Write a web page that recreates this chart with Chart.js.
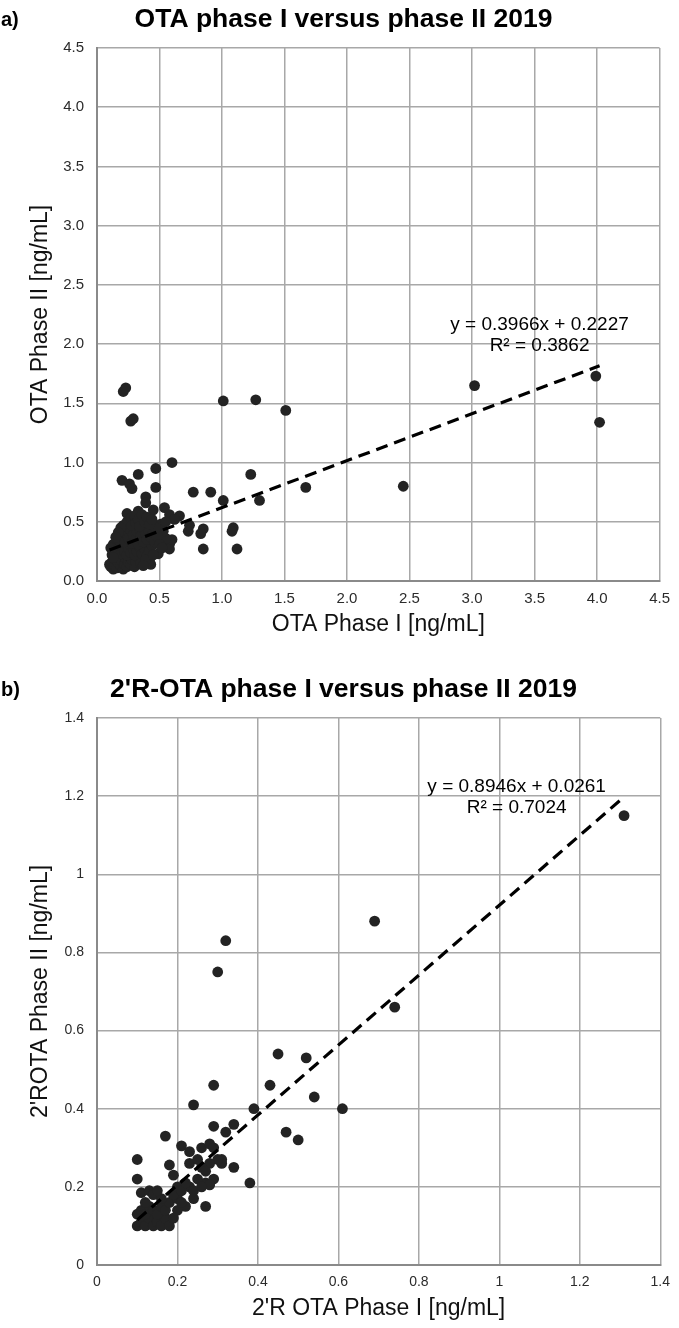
<!DOCTYPE html>
<html>
<head>
<meta charset="utf-8">
<script src="https://cdn.jsdelivr.net/npm/chart.js@4.4.0/dist/chart.umd.min.js"></script>
<style>
  html, body { margin: 0; padding: 0; background: #fff; }
  #wrap { position: relative; width: 679px; height: 1328px; }
  canvas { position: absolute; left: 0; }
</style>
</head>
<body>
<div id="wrap">
  <canvas id="chartA" width="679" height="644" style="top:0"></canvas>
  <canvas id="chartB" width="679" height="658" style="top:670px"></canvas>
</div>
<script>
// a) OTA, phase I vs phase II (ng/mL)
const otaPhaseI = [
  0.21, 0.23, 0.27, 0.29, 1.01, 1.27, 1.51, 3.02, 3.99, 4.02,
  0.60, 0.47, 0.33, 0.20, 0.26, 0.28, 0.47, 0.77, 0.91, 1.01,
  1.23, 1.30, 1.67, 2.45, 0.74, 0.73, 0.85, 0.83, 1.09, 1.08,
  0.85, 1.12, 0.39, 0.39, 0.54, 0.45, 0.33, 0.24, 0.58, 0.66,
  0.62, 0.58, 0.58, 0.49, 0.43, 0.42, 0.60, 0.55, 0.53, 0.51,
  0.10, 0.11, 0.12, 0.13, 0.14, 0.15, 0.16, 0.17, 0.18, 0.19,
  0.20, 0.21, 0.22, 0.23, 0.24, 0.25, 0.26, 0.27, 0.28, 0.30,
  0.31, 0.33, 0.35, 0.12, 0.14, 0.16, 0.13, 0.11, 0.15, 0.17,
  0.19, 0.20, 0.22, 0.24, 0.25, 0.27, 0.29, 0.30, 0.32, 0.34,
  0.36, 0.38, 0.40, 0.42, 0.44, 0.18, 0.20, 0.22, 0.23, 0.25,
  0.26, 0.28, 0.29, 0.31, 0.32, 0.33, 0.35, 0.36, 0.37, 0.39,
  0.40, 0.41, 0.43, 0.45, 0.46, 0.48, 0.50, 0.47, 0.21, 0.24,
  0.27, 0.28, 0.30, 0.31, 0.33, 0.34, 0.36, 0.38, 0.40, 0.42,
  0.44, 0.19, 0.17, 0.15, 0.39, 0.37, 0.45, 0.52, 0.55, 0.13
];
const otaPhaseII = [
  1.60, 1.63, 1.35, 1.37, 1.52, 1.53, 1.44, 1.65, 1.73, 1.34,
  1.00, 0.95, 0.90, 0.85, 0.82, 0.78, 0.79, 0.75, 0.75, 0.68,
  0.90, 0.68, 0.79, 0.80, 0.47, 0.42, 0.44, 0.40, 0.45, 0.42,
  0.27, 0.27, 0.71, 0.66, 0.62, 0.60, 0.59, 0.57, 0.56, 0.55,
  0.52, 0.31, 0.27, 0.23, 0.14, 0.17, 0.35, 0.36, 0.42, 0.48,
  0.14, 0.12, 0.16, 0.10, 0.13, 0.18, 0.11, 0.15, 0.20, 0.13,
  0.17, 0.10, 0.14, 0.19, 0.12, 0.16, 0.21, 0.14, 0.18, 0.12,
  0.16, 0.20, 0.15, 0.22, 0.26, 0.30, 0.31, 0.28, 0.24, 0.27,
  0.23, 0.29, 0.25, 0.22, 0.28, 0.24, 0.27, 0.22, 0.25, 0.29,
  0.23, 0.27, 0.21, 0.26, 0.30, 0.34, 0.38, 0.33, 0.41, 0.36,
  0.44, 0.32, 0.39, 0.35, 0.42, 0.31, 0.38, 0.45, 0.33, 0.40,
  0.35, 0.43, 0.37, 0.41, 0.33, 0.38, 0.31, 0.45, 0.47, 0.50,
  0.53, 0.47, 0.55, 0.49, 0.52, 0.46, 0.56, 0.50, 0.54, 0.48,
  0.52, 0.45, 0.41, 0.37, 0.18, 0.13, 0.22, 0.28, 0.50, 0.20
];

// b) 2'R-OTA, phase I vs phase II (ng/mL)
const rotaPhaseI = [
  1.31, 0.69, 0.32, 0.30, 0.74, 0.45, 0.52, 0.29, 0.43, 0.54,
  0.24, 0.39, 0.61, 0.29, 0.34, 0.32, 0.47, 0.50, 0.17, 0.10,
  0.10, 0.21, 0.23, 0.26, 0.28, 0.34, 0.38, 0.18, 0.19, 0.31,
  0.31, 0.30, 0.28, 0.23, 0.29, 0.23, 0.24, 0.27, 0.11, 0.13,
  0.22, 0.20, 0.27, 0.28, 0.26, 0.27, 0.10, 0.11, 0.12, 0.13,
  0.14, 0.15, 0.16, 0.17, 0.18, 0.10, 0.11, 0.12, 0.13, 0.14,
  0.15, 0.16, 0.17, 0.18, 0.19, 0.20, 0.21, 0.12, 0.14, 0.16,
  0.19, 0.20, 0.21, 0.22, 0.24, 0.25, 0.26, 0.15, 0.25, 0.29
];
const rotaPhaseII = [
  1.15, 0.88, 0.83, 0.75, 0.66, 0.54, 0.53, 0.46, 0.46, 0.43,
  0.41, 0.40, 0.40, 0.355, 0.36, 0.34, 0.34, 0.32, 0.33, 0.27,
  0.22, 0.305, 0.29, 0.30, 0.31, 0.25, 0.21, 0.256, 0.23, 0.27,
  0.26, 0.27, 0.26, 0.26, 0.22, 0.20, 0.17, 0.15, 0.185, 0.19,
  0.15, 0.14, 0.21, 0.205, 0.25, 0.24, 0.10, 0.11, 0.10, 0.12,
  0.10, 0.11, 0.10, 0.12, 0.10, 0.13, 0.14, 0.13, 0.15, 0.14,
  0.13, 0.15, 0.14, 0.16, 0.12, 0.17, 0.16, 0.16, 0.18, 0.17,
  0.18, 0.20, 0.19, 0.21, 0.19, 0.22, 0.20, 0.19, 0.27, 0.30
];

// linear trend lines as printed on the figure: [slope, intercept, R²]
const otaTrend = [0.3966, 0.2227, 0.3862];
const rotaTrend = [0.8946, 0.0261, 0.7024];

const otaAxis = [0, 4.5, 0.5];   // min, max, step (both axes)
const rotaAxis = [0, 1.4, 0.2];

const FONT = '"Liberation Sans", Arial, sans-serif';

// panel letter + trendline equation text
const annotate = {
  id: 'annotate',
  afterDraw(chart, args, opts) {
    const { ctx, scales } = chart;
    ctx.save();
    ctx.fillStyle = '#000';
    ctx.textBaseline = 'middle';
    ctx.font = `bold 20px ${FONT}`;
    ctx.textAlign = 'left';
    ctx.fillText(opts.panel, 1, 20);

    ctx.font = `19px ${FONT}`;
    ctx.textAlign = 'center';
    const [m, b, r2] = opts.trend;
    const cx = scales.x.getPixelForValue(opts.at[0]);
    ctx.fillText(`y = ${m.toFixed(4)}x + ${b.toFixed(4)}`, cx, scales.y.getPixelForValue(opts.at[1]));
    ctx.fillText(`R² = ${r2.toFixed(4)}`, cx, scales.y.getPixelForValue(opts.at[2]));
    ctx.restore();
  }
};

function makeChart(id, cfg) {
  const xs = cfg.xs, ys = cfg.ys;
  const points = xs.map((x, i) => ({ x, y: ys[i] }));
  const x0 = Math.min(...xs), x1 = Math.max(...xs);
  const [m, b] = cfg.trend;
  const trendPts = [{ x: x0, y: m * x0 + b }, { x: x1, y: m * x1 + b }];
  const [min, max, step] = cfg.axis;

  const scale = (title, horizontal) => ({
    type: 'linear',
    min, max,
    ticks: {
      stepSize: step,
      padding: horizontal ? 9 : 13,
      color: '#2b2b2b',
      font: { family: FONT, size: cfg.tickSize },
      callback: cfg.fmt
    },
    grid: { color: '#a8a8a8', lineWidth: 1.5, drawTicks: false },
    border: { color: '#8a8a8a', width: 2 },
    title: {
      display: true,
      text: title,
      color: '#111',
      font: { family: FONT, size: 23 },
      padding: horizontal ? { top: 0, bottom: 3 } : { top: 3, bottom: 0 }
    },
    afterFit(s) {
      if (horizontal) s.height = 60; else s.width = 73;
    }
  });

  return new Chart(document.getElementById(id), {
    type: 'scatter',
    data: {
      datasets: [
        {
          type: 'line',
          data: trendPts,
          borderColor: '#000',
          borderWidth: 3.2,
          borderDash: [12, 7],
          pointRadius: 0,
          fill: false,
          order: 0
        },
        {
          data: points,
          backgroundColor: '#232323',
          borderWidth: 0,
          pointRadius: 5.4,
          order: 1
        }
      ]
    },
    options: {
      responsive: false,
      animation: false,
      devicePixelRatio: 1,
      layout: { padding: { left: 24, right: 16, top: 0, bottom: 3 } },
      scales: {
        x: scale(cfg.xTitle, true),
        y: scale(cfg.yTitle, false)
      },
      plugins: {
        legend: { display: false },
        tooltip: { enabled: false },
        title: {
          display: true,
          text: cfg.title,
          color: '#000',
          font: { family: FONT, size: 26.5, weight: 'bold' },
          padding: { top: 4, bottom: 12.2 }
        },
        annotate: { panel: cfg.panel, trend: cfg.trend, at: cfg.eqAt }
      }
    },
    plugins: [annotate]
  });
}

makeChart('chartA', {
  panel: 'a)',
  title: 'OTA phase I versus phase II 2019',
  xTitle: 'OTA Phase I [ng/mL]',
  yTitle: 'OTA Phase II [ng/mL]',
  xs: otaPhaseI,
  ys: otaPhaseII,
  trend: otaTrend,
  axis: otaAxis,
  tickSize: 15,
  fmt: v => v.toFixed(1),
  eqAt: [3.54, 2.16, 1.985]
});

makeChart('chartB', {
  panel: 'b)',
  title: "2'R-OTA phase I versus phase II 2019",
  xTitle: "2'R OTA Phase I [ng/mL]",
  yTitle: "2'ROTA Phase II [ng/mL]",
  xs: rotaPhaseI,
  ys: rotaPhaseII,
  trend: rotaTrend,
  axis: rotaAxis,
  tickSize: 14,
  fmt: v => String(+v.toFixed(1)),
  eqAt: [1.043, 1.223, 1.170]
});
</script>
</body>
</html>
